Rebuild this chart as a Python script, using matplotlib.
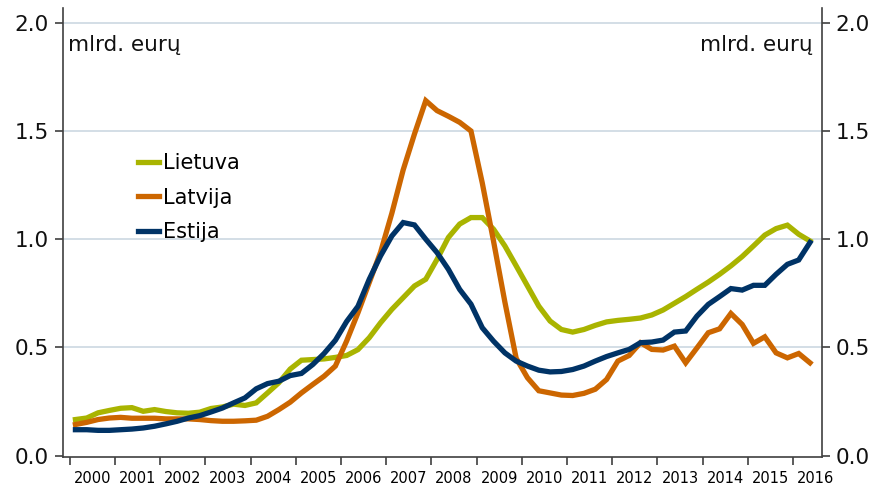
import numpy as np
import matplotlib
matplotlib.use("Agg")
import matplotlib.pyplot as plt

# quarterly values, 2000 Q1 .. 2016 Q2 (mlrd. eurų)
lietuva = [0.167, 0.174, 0.198, 0.209,
           0.219, 0.222, 0.205, 0.213,
           0.204, 0.198, 0.196, 0.201,
           0.218, 0.225, 0.238, 0.232,
           0.244, 0.290, 0.337, 0.400,
           0.441, 0.444, 0.447, 0.454,
           0.463, 0.490, 0.545, 0.614,
           0.676, 0.730, 0.784, 0.815,
           0.907, 1.008, 1.070, 1.100,
           1.100, 1.046, 0.969, 0.877,
           0.784, 0.691, 0.622, 0.583,
           0.571, 0.583, 0.602, 0.618,
           0.625, 0.630, 0.636, 0.650,
           0.673, 0.704, 0.735, 0.769,
           0.802, 0.838, 0.877, 0.920,
           0.969, 1.019, 1.049, 1.065,
           1.023, 0.992]
latvija = [0.144, 0.154, 0.167, 0.174,
           0.177, 0.173, 0.173, 0.173,
           0.170, 0.170, 0.170, 0.167,
           0.162, 0.159, 0.159, 0.161,
           0.164, 0.182, 0.213, 0.247,
           0.290, 0.329, 0.367, 0.414,
           0.530, 0.660, 0.800, 0.940,
           1.120, 1.320, 1.486, 1.640,
           1.594, 1.568, 1.540, 1.500,
           1.260, 0.990, 0.710, 0.450,
           0.360, 0.300, 0.290, 0.280,
           0.278, 0.288, 0.307, 0.352,
           0.437, 0.463, 0.522, 0.491,
           0.488, 0.506, 0.429, 0.498,
           0.568, 0.586, 0.657, 0.606,
           0.519, 0.549, 0.475, 0.452,
           0.472, 0.429]
estija = [0.120, 0.120, 0.117, 0.117,
          0.120, 0.123, 0.128, 0.136,
          0.147, 0.159, 0.174, 0.185,
          0.202, 0.220, 0.244, 0.267,
          0.309, 0.333, 0.344, 0.370,
          0.380, 0.421, 0.472, 0.533,
          0.620, 0.690, 0.815, 0.923,
          1.015, 1.077, 1.066, 1.000,
          0.938, 0.861, 0.768, 0.700,
          0.591, 0.529, 0.475, 0.437,
          0.414, 0.395, 0.387, 0.389,
          0.398, 0.414, 0.437, 0.458,
          0.475, 0.491, 0.522, 0.525,
          0.534, 0.571, 0.576, 0.645,
          0.699, 0.735, 0.772, 0.765,
          0.787, 0.787, 0.838, 0.884,
          0.904, 0.985]
years = list(range(2000, 2017))
unit = "mlrd. eurų"

# quarter midpoints
x = 2000 + (np.arange(len(lietuva)) + 0.5) / 4

fig = plt.figure(figsize=(8.75, 4.86), dpi=100)
ax = fig.add_axes([0.072, 0.0597, 0.8674, 0.9238])

ax.plot(x, lietuva, color="#a9b400", lw=3.8, label="Lietuva", solid_joinstyle="miter")
ax.plot(x, latvija, color="#cc6600", lw=3.8, label="Latvija", solid_joinstyle="miter")
ax.plot(x, estija, color="#003366", lw=3.8, label="Estija", solid_joinstyle="miter")

ax.set_xlim(1999.85, 2016.64)
ax.set_ylim(-0.006, 2.068)

ax.set_yticks([0, 0.5, 1.0, 1.5, 2.0])
ax.set_yticklabels(["0.0", "0.5", "1.0", "1.5", "2.0"])
for v in [0.5, 1.0, 1.5, 2.0]:
    ax.axhline(v, color="#ccd8e2", lw=1.2, zorder=0)

ax.set_xticks(years)
ax.set_xticklabels([])
ax.set_xticks([y + 0.5 for y in years], minor=True)
ax.set_xticklabels([str(y) for y in years], minor=True, fontsize=10.5)
ax.tick_params(axis="x", which="minor", length=0, pad=10)
ax.tick_params(axis="x", which="major", length=6, width=1.2, color="#404040")

ax.tick_params(axis="y", which="both", length=6, width=1.2, color="#404040",
               labelsize=15.5, right=True, labelright=True, pad=4)
ax.tick_params(axis="y", labelcolor="#111111")

ax.spines["top"].set_visible(False)
for s in ["left", "right", "bottom"]:
    ax.spines[s].set_color("#404040")
    ax.spines[s].set_linewidth(1.2)

ax.text(0.006, 0.918, unit, transform=ax.transAxes, fontsize=15.5,
        ha="left", va="center", color="#111111")
ax.text(0.988, 0.918, unit, transform=ax.transAxes, fontsize=15.5,
        ha="right", va="center", color="#111111")

ax.legend(loc="upper left", bbox_to_anchor=(0.088, 0.695), frameon=False,
          fontsize=15, handlelength=1.0, handletextpad=0.2, labelspacing=0.69,
          borderaxespad=0)

fig.savefig("out.png", dpi=100)
